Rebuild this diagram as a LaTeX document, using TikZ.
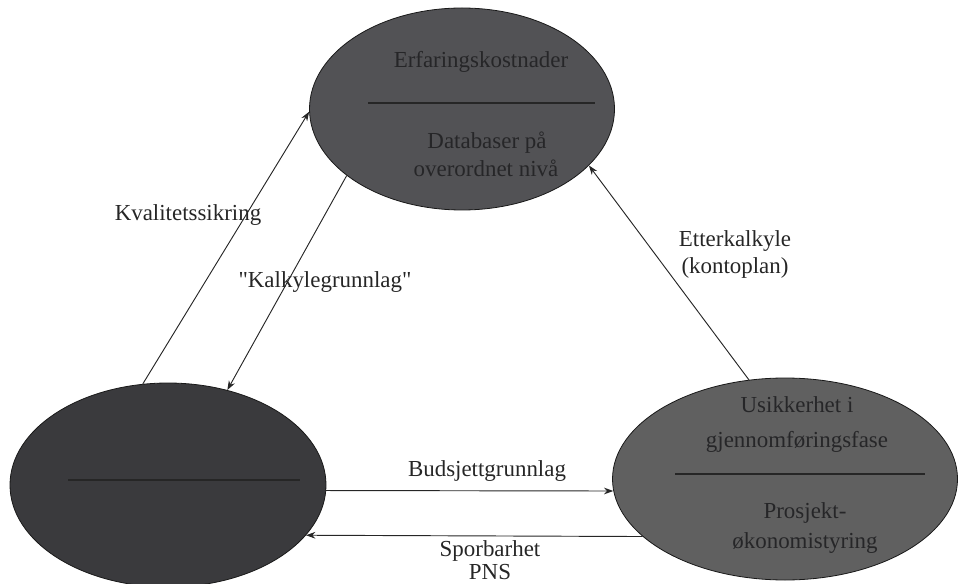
\documentclass[tikz,border=0pt]{standalone}
\usepackage{fontspec}
\setmainfont{Liberation Serif}[Ligatures=TeXOff]
\usetikzlibrary{shapes.geometric,arrows.meta}
\definecolor{topfill}{RGB}{82,82,85}
\definecolor{leftfill}{RGB}{58,58,61}
\definecolor{rightfill}{RGB}{96,96,96}
\definecolor{intext}{RGB}{38,38,40}
\tikzset{
  blob/.style={ellipse, draw=black!90, line width=0.6pt, inner sep=0pt},
  lbl/.style={font=\fontsize{17.2}{20}\selectfont, text=black!85, inner sep=0pt},
  intxt/.style={font=\fontsize{17.2}{20}\selectfont, text=intext, inner sep=0pt},
  sep/.style={draw=black!85, line width=0.8pt},
  conn/.style={draw=black!85, line width=0.7pt, -{Stealth[length=7pt,width=5pt]}}
}
\begin{document}
\begin{tikzpicture}[x=0.75pt,y=-0.75pt]
\useasboundingbox (0,0) rectangle (959,584);
% ellipses
\node[blob, fill=topfill, minimum width=228.75pt, minimum height=151.5pt] (T) at (462,109) {};
\node[blob, fill=leftfill, minimum width=237pt, minimum height=153pt] (L) at (168,485) {};
\node[blob, fill=rightfill, minimum width=258.75pt, minimum height=151.5pt] (R) at (785,479) {};
% separator lines
\draw[sep] (368,103) -- (595,103);
\draw[sep] (68,480) -- (300,480);
\draw[sep] (675,474) -- (925,474);
% texts inside ellipses
\node[intxt] (t1) at (481,62) {Erfaringskostnader};
\node[intxt] (t2) at (487,143) {Databaser på};
\node[intxt] (t3) at (486,168) {overordnet nivå};
\node[intxt] (r1) at (797,405) {Usikkerhet i};
\node[intxt] (r2) at (797,442) {gjennomføringsfase};
\node[intxt] (r3) at (805,513) {Prosjekt-};
\node[intxt] (r4) at (805,543) {økonomistyring};
% connectors
\draw[conn] (L.104.9) -- (T.181.5);
\draw[conn] (T.210.2) -- (L.58.2);
\draw[conn] (R.110.9) -- (T.-24.9);
\draw[conn] (L.-2.5) -- (R.184.35);
\draw[conn] (R.202.3) -- (L.-20.9);
% labels
\node[lbl] (k1) at (188,215) {Kvalitetssikring};
\node[lbl] (k2) at (325,282) {"Kalkylegrunnlag"};
\node[lbl] (e1) at (735,241) {Etterkalkyle};
\node[lbl] (e2) at (735,268) {(kontoplan)};
\node[lbl] (b1) at (487,471) {Budsjettgrunnlag};
\node[lbl] (s1) at (490,551) {Sporbarhet};
\node[lbl] (s2) at (490,572) {PNS};
\end{tikzpicture}
\end{document}
